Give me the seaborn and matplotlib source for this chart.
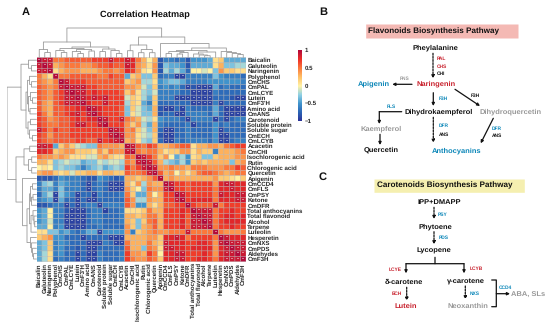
import numpy as np
import pandas as pd
import matplotlib.pyplot as plt
from matplotlib.colors import LinearSegmentedColormap
import seaborn as sns

sns.set_style("white")
plt.rcParams['font.family'] = ['Liberation Sans', 'DejaVu Sans']
plt.rcParams['font.weight'] = 'bold'
plt.rcParams['path.snap'] = False
plt.rcParams['text.hinting'] = 'none'

W, H = 550, 327

# row / column names, in clustered order
names = ["Baicalin", "Galuteolin", "Naringenin", "Polyphenol", "CmCHS", "CmPAL", "CmLCYE", "Lutein",
         "CmF3'H", "Amino acid", "CmANS", "Carotenoid", "Soluble protein", "Soluble sugar", "CmECH", "CmLCYB",
         "Acacetin", "CmCHI", "Isochlorogenic acid", "Rutin", "Chlorogenic acid", "Quercetin", "Apigenin",
         "CmCCD4", "CmFLS", "CmPSY", "Ketone", "CmDFR", "Total anthocyanins", "Total flavonoid", "Alcohol",
         "Terpene", "Luteolin", "Hesperetin", "CmNXS", "CmPDS", "Aldehydes", "CmF3H"]

# upper triangle of the correlation matrix in tenths
a_block = [
    [10, 9, 9, 5, 5, 6, 6, 6, 6, 6, 7, 7, 7, 9, 7, 7],
    [10, 9, 3, 4, 5, 5, 5, 4, 4, 5, 6, 6, 7, 6, 6],
    [10, 1, 3, 4, 4, 4, 3, 3, 3, 4, 5, 5, 4, 5],
    [10, 5, 5, 6, 6, 6, 6, 6, 5, 5, 7, 6, 6],
    [10, 9, 7, 7, 7, 6, 6, 6, 6, 6, 6, 6],
    [10, 9, 9, 9, 7, 7, 6, 6, 6, 6, 6],
    [10, 9, 9, 7, 8, 7, 7, 7, 7, 6],
    [10, 9, 8, 9, 8, 9, 7, 7, 7],
    [10, 8, 7, 7, 9, 7, 7, 7],
    [10, 9, 8, 7, 7, 7, 6],
    [10, 8, 7, 7, 7, 6],
    [10, 9, 7, 7, 9],
    [10, 7, 7, 7],
    [10, 9, 8],
    [10, 9],
    [10],
]
a_b = [
    [9, 8, 5, 3, 0, 3, -8],
    [9, 8, 4, 3, 1, 4, -8],
    [8, 7, 4, 1, 0, 4, -8],
    [-4, 2, 3, -3, -3, 2, -7],
    [2, 3, 4, -2, -2, 1, -5],
    [4, 4, 3, -1, -3, 2, -6],
    [2, 4, 1, -2, -3, -1, -6],
    [-1, 2, 1, -2, -4, 2, -6],
    [-2, 2, 1, -4, -6, 2, -7],
    [-3, 2, -1, -3, -4, 3, -8],
    [-3, 1, -1, -3, -3, 3, -8],
    [5, 4, 3, -1, -2, 1, -5],
    [4, 2, 4, -2, -4, 3, -6],
    [4, 5, 2, -1, -3, 3, -7],
    [4, 4, 1, -1, -2, 2, -8],
    [3, 4, 1, -2, -3, 2, -7],
]
a_c = [
    [-6, -6, -7, -6, -8, -5, -5, -5, -4, 1, 2, -4, -4, -4, -4],
    [-3, -4, -4, -5, -8, -4, -4, -4, -4, 1, 3, -3, -3, -2, -2],
    [-2, -4, -2, -4, -7, 0, 0, -1, 0, -3, 4, 2, 2, 1, 1],
    [-6, -6, -9, -9, -6, -6, -6, -6, -6, -3, -5, -6, -6, -6, -7],
    [-4, -3, -3, -4, -6, -6, -6, -6, -5, -5, -5, -5, -5, -5, -6],
    [-5, -6, -5, -7, -9, -8, -9, -9, -9, -4, -7, -6, -7, -7, -7],
    [-6, -6, -6, -7, -7, -9, -9, -9, -9, -6, -7, -7, -7, -7, -7],
    [-6, -6, -9, -9, -9, -9, -9, -9, -9, -7, -7, -7, -8, -9, -9],
    [-7, -7, -7, -7, -7, -9, -9, -9, -9, -6, -9, -7, -7, -7, -7],
    [-9, -9, -7, -9, -6, -7, -7, -7, -7, -4, -7, -9, -9, -9, -9],
    [-7, -7, -9, -9, -6, -6, -6, -6, -7, -4, -7, -9, -9, -9, -9],
    [-6, -6, -6, -7, -9, -6, -6, -6, -6, -9, -7, -9, -7, -6, -6],
    [-7, -7, -7, -7, -6, -9, -7, -7, -7, -5, -7, -6, -7, -7, -7],
    [-9, -9, -7, -7, -6, -7, -7, -7, -7, -5, -9, -7, -7, -7, -7],
    [-9, -9, -7, -7, -6, -7, -7, -7, -7, -5, -9, -9, -7, -7, -7],
    [-9, -9, -6, -7, -6, -6, -6, -6, -7, -5, -9, -9, -7, -6, -6],
]
b_block = [
    [10, 9, 6, 5, 7, 6, 3],
    [10, 5, 4, 5, 5, 3],
    [10, 9, 7, 5, 2],
    [10, 9, 6, 3],
    [10, 9, 4],
    [10, 6],
    [10],
]
b_c = [
    [3, 4, 5, 6, 6, 1, 3, 3, 4, 4, 3, 5, 6, 7, 7],
    [1, 2, 2, 4, 4, 1, 3, 2, 2, -6, 3, 3, 3, 4, 5],
    [4, 0, -4, -2, -5, 1, 2, -3, -3, 2, 3, 3, 3, 4, 4],
    [-2, -3, -4, -2, -5, 2, 3, 2, 3, 3, 3, 3, -3, 3, 4],
    [4, 5, 4, 4, 3, 5, 5, 5, 4, 4, 4, 5, 5, 7, 6],
    [3, 4, 0, 3, 1, 3, 5, 6, 6, 5, 4, 3, 4, 5, 5],
    [3, 4, 3, 3, 3, 3, 3, 3, 3, 4, 2, 2, 1, 0, 2],
]
c_block = [
    [10, 9, 7, 7, 6, 7, 7, 7, 7, 4, 8, 9, 9, 8, 8],
    [10, 7, 7, 6, 7, 7, 7, 7, 5, 8, 8, 9, 8, 8],
    [10, 9, 7, 7, 7, 7, 7, 5, 9, 8, 8, 9, 9],
    [10, 7, 8, 8, 8, 8, 5, 8, 8, 8, 9, 9],
    [10, 7, 6, 6, 6, 9, 5, 7, 7, 7, 7],
    [10, 9, 9, 9, 5, 7, 7, 8, 7, 7],
    [10, 9, 9, 5, 7, 8, 8, 7, 8],
    [10, 9, 5, 7, 8, 8, 8, 8],
    [10, 5, 7, 7, 8, 7, 7],
    [10, 5, 4, 4, 4, 5],
    [10, 9, 8, 8, 8],
    [10, 9, 9, 9],
    [10, 9, 9],
    [10, 9],
    [10],
]

# cluster tree, used for both margins: (height, left, right), leaves are cell indexes
tree = (29.5,
        (15.5,
         (8, 0, (5, 1, 2)),
         (10.5,
          (9, (7, 3, (5, 4, 5)), (8, (6, 6, (4, 7, 8)), (6.5, 9, 10))),
          (8.5, (6, 11, 12), (7, 13, (4, 14, 15))))),
        (20.5,
         (12.5, (6.8, 16, 17), (8, (4.8, 18, 19), (4.8, 20, 21))),
         (14, 22,
          (9.5,
           (7, (6, (4, 23, 24), (5, (3.5, 25, 26), 27)), (5.5, (3.5, 28, (2.5, 29, (1.8, 30, 31))), 32)),
           (6, 33, (5, 34, (4, 35, (3, 36, 37))))))))

# upper triangle -> full matrix
rows = []
for i in range(16):
    rows.append(a_block[i] + a_b[i] + a_c[i])
for i in range(7):
    rows.append(b_block[i] + b_c[i])
rows += c_block
corr = np.zeros((38, 38))
for i, row in enumerate(rows):
    corr[i, i:] = np.array(row) / 10
    corr[i:, i] = np.array(row) / 10
df = pd.DataFrame(corr, index=names, columns=names)
stars = df.map(lambda v: "**" if abs(v) >= 0.9 else "")

cmap = LinearSegmentedColormap.from_list(
    "corr", ["#2c2f96", "#2a62b4", "#3f93cc", "#8fd0e4", "#fff2a6",
             "#fec066", "#fb7a3c", "#ee2f26", "#b30a3a"])


def px_axes(x0, y0, x1, y1):
    return fig.add_axes([x0 / W, 1 - y1 / H, (x1 - x0) / W, (y1 - y0) / H])


def draw_tree(node, ax, vertical):
    # returns centre position and height of the node
    if not isinstance(node, tuple):
        return node + 0.5, 0
    h, left, right = node
    p1, h1 = draw_tree(left, ax, vertical)
    p2, h2 = draw_tree(right, ax, vertical)
    pos = [p1, p1, p2, p2]
    hts = [h1, h, h, h2]
    if vertical:
        ax.plot(pos, hts, color="#9a9a9a", lw=0.6)
    else:
        ax.plot(hts, pos, color="#9a9a9a", lw=0.6)
    return (p1 + p2) / 2, h


fig = plt.figure(figsize=(W / 100, H / 100), dpi=100)

# heatmap panel
hm_ax = px_axes(36.5, 57.5, 246, 261.7)
cb_ax = px_axes(297.7, 50, 302.3, 121)
sns.heatmap(df, ax=hm_ax, cbar_ax=cb_ax, cmap=cmap, vmin=-1, vmax=1, linewidths=0.25, linecolor="#b4b4b4",
            annot=stars, fmt="", annot_kws={"size": 1.8, "color": "white", "alpha": 0.85},
            xticklabels=True, yticklabels=True, antialiased=True,
            cbar_kws={"ticks": [-1, -0.5, 0, 0.5, 1]})
hm_ax.yaxis.tick_right()
hm_ax.tick_params(axis="both", length=0, pad=1)
plt.setp(hm_ax.get_yticklabels(), rotation=0, fontsize=4.4, fontweight="bold")
plt.setp(hm_ax.get_xticklabels(), rotation=90, fontsize=4.4, fontweight="bold")
cb_ax.tick_params(length=0, pad=1.5)
cb_ax.set_yticklabels(["\u22121", "\u22120.5", "0", "0.5", "1"], fontsize=4.4, fontweight="bold")
cb_ax.collections[0].set_edgecolor("face")

top_ax = px_axes(36.5, 27, 246, 57.5)
top_ax.set_xlim(0, 38)
top_ax.set_ylim(0, 30.5)
top_ax.axis("off")
draw_tree(tree, top_ax, True)

left_ax = px_axes(7, 57.5, 36.5, 261.7)
left_ax.set_ylim(38, 0)
left_ax.set_xlim(29.5, 0)
left_ax.axis("off")
draw_tree(tree, left_ax, False)

# pathway panels are drawn on one axes in pixel units
ax = fig.add_axes([0, 0, 1, 1], zorder=-1)
ax.set_xlim(0, W)
ax.set_ylim(H, 0)
ax.axis("off")

RED, BLUE, GREY, BLACK = "#c8202c", "#0a86b8", "#999999", "#111111"

ax.text(26, 12.5, "A", fontsize=8, ha="center", va="center", color=BLACK)
ax.text(323, 12.5, "B", fontsize=8, ha="center", va="center", color=BLACK)
ax.text(323, 177, "C", fontsize=8, ha="center", va="center", color=BLACK)
ax.text(145, 15, "Correlation Heatmap", fontsize=6.6, ha="center", va="center", color=BLACK)

ax.fill_between([365.7, 518], 24, 38, color="#f4b9b4", lw=0)
ax.text(368.3, 31, "Flavonoids Biosynthesis Pathway", fontsize=5.9, va="center", color=BLACK)
ax.fill_between([374, 524.3], 179, 192.3, color="#f5efb0", lw=0)
ax.text(377.3, 185.7, "Carotenoids Biosynthesis Pathway", fontsize=5.9, va="center", color=BLACK)

# (text, x, y, colour)
big_labels = [
    ("Pheylalanine", 435.7, 47.3, BLACK), ("Apigenin", 374, 84, BLUE), ("Naringenin", 435.7, 84, RED),
    ("Dihydrokaempferol", 438.7, 111.3, BLACK), ("Dihydroquercetin", 510.7, 111.3, GREY),
    ("Kaempferol", 381, 128.7, GREY), ("Quercetin", 380.7, 150.3, BLACK), ("Anthocyanins", 456.7, 150.7, BLUE),
    ("IPP+DMAPP", 439, 202.3, BLACK), ("Phytoene", 435, 226.3, BLACK), ("Lycopene", 434, 250.7, BLACK),
    ("\u03b4-carotene", 404.3, 282, BLACK), ("\u03b3-carotene", 465.7, 281.3, BLACK),
    ("Lutein", 405.3, 306.3, RED), ("Neoxanthin", 468, 306, GREY), ("ABA, SLs", 528, 294, GREY),
]
small_labels = [
    ("PAL", 441.7, 58.3, RED), ("CHS", 441.7, 66.3, RED), ("CHI", 441, 74, BLACK), ("FNS", 404.3, 79, GREY),
    ("F3H", 443.3, 98.7, BLUE), ("F3H", 475.7, 95.7, BLACK), ("FLS", 391.7, 106.7, BLUE),
    ("DFR", 443.7, 126, BLUE), ("ANS", 444.3, 134.3, BLACK), ("DFR", 496.7, 128.3, BLUE), ("ANS", 497, 136, BLACK),
    ("PSY", 442.7, 214.3, BLUE), ("PDS", 443.3, 237.7, BLUE), ("LCYE", 395, 269.7, RED), ("LCYB", 476, 268.7, RED),
    ("ECH", 397, 293.7, RED), ("NXS", 474.3, 293.3, BLUE), ("CCD4", 505, 288, BLUE),
]
for txt, x, y, col in big_labels:
    ax.text(x, y, txt, fontsize=5.4, ha="center", va="center", color=col)
for txt, x, y, col in small_labels:
    ax.text(x, y, txt, fontsize=3.5, ha="center", va="center", color=col)

# (x0, y0, x1, y1, dashed)
arrows = [
    (433, 53.3, 433, 78.3, True), (412, 84.3, 392.3, 84.3, False), (433.3, 92.7, 433.3, 106, False),
    (455, 89.3, 480, 106, False), (379.3, 111.7, 379.3, 124, False), (380, 134.3, 380, 145, False),
    (433.3, 117.3, 433.3, 142.7, True), (493.3, 118.3, 480.7, 143.3, False),
    (434, 207.3, 434, 219, True), (434, 231.7, 434, 244.3, True),
    (406, 263.7, 406, 273.3, False), (464, 263.7, 464, 273.3, False),
    (406.7, 287.3, 406.7, 300.7, True), (465.3, 286, 465.3, 299.3, True), (496.3, 293.7, 510, 293.7, False),
]
for x0, y0, x1, y1, dashed in arrows:
    ax.annotate("", xy=(x1, y1), xytext=(x0, y0),
                arrowprops=dict(arrowstyle="-|>", mutation_scale=4, lw=0.9, color=BLACK, shrinkA=0, shrinkB=0,
                                linestyle=(0, (1.5, 1)) if dashed else "-"))

# plain connector lines
ax.plot([401.7, 379.3], [111.7, 111.7], color=BLACK, lw=0.9)
ax.plot([435, 435], [257.3, 263.7], color=BLACK, lw=0.9)
ax.plot([406, 464], [263.7, 263.7], color=BLACK, lw=0.9)
ax.plot([491.7, 496.3, 496.3, 491.7], [280, 280, 306.7, 306.7], color=BLACK, lw=0.9)

plt.savefig("out.png", dpi=100)
